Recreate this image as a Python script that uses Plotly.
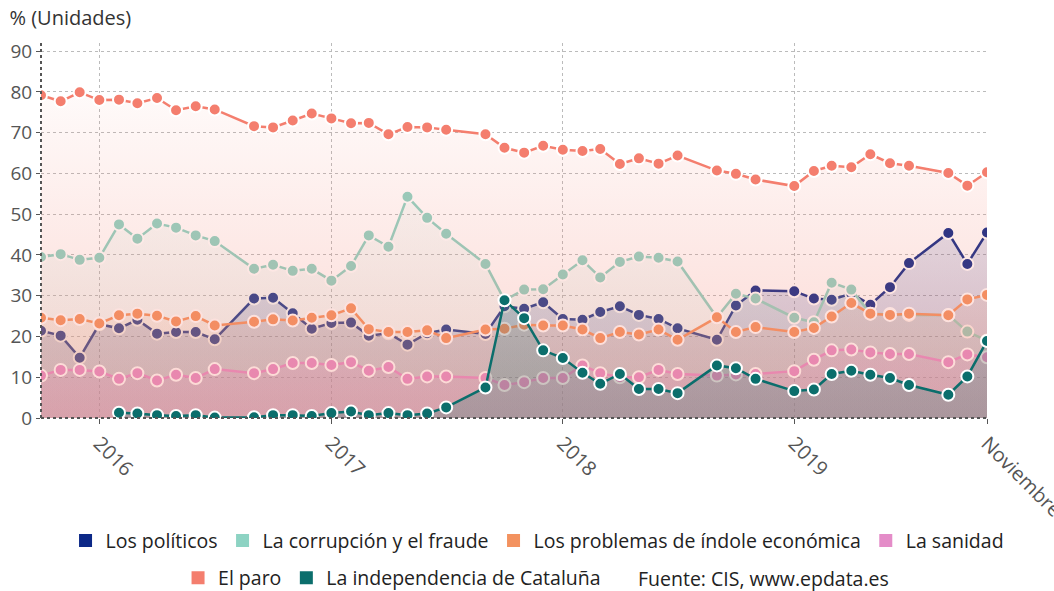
import plotly.graph_objects as go

# CIS barometer months (no survey in August, nor in December 2018)
months = [
    "2015-10-01", "2015-11-01", "2015-12-01",
    "2016-01-01", "2016-02-01", "2016-03-01", "2016-04-01", "2016-05-01", "2016-06-01", "2016-07-01",
    "2016-09-01", "2016-10-01", "2016-11-01", "2016-12-01",
    "2017-01-01", "2017-02-01", "2017-03-01", "2017-04-01", "2017-05-01", "2017-06-01", "2017-07-01",
    "2017-09-01", "2017-10-01", "2017-11-01", "2017-12-01",
    "2018-01-01", "2018-02-01", "2018-03-01", "2018-04-01", "2018-05-01", "2018-06-01", "2018-07-01",
    "2018-09-01", "2018-10-01", "2018-11-01",
    "2019-01-01", "2019-02-01", "2019-03-01", "2019-04-01", "2019-05-01", "2019-06-01", "2019-07-01",
    "2019-09-01", "2019-10-01", "2019-11-01",
]

politicos = [21.4, 20.2, 14.8, 23.0, 22.0, 24.1, 20.7, 21.1, 21.1, 19.3,
             29.3, 29.5, 25.7, 21.9, 23.3, 23.4, 20.2, 20.8, 18.0, 20.8, 21.7,
             20.6, 27.4, 26.8, 28.4, 24.3, 24.1, 26.0, 27.4, 25.3, 24.3, 22.0,
             19.2, 27.6, 31.3, 31.1, 29.3, 29.0, 30.5, 27.8, 32.1, 38.0,
             45.4, 37.8, 45.5]

corrupcion = [39.5, 40.2, 38.8, 39.3, 47.5, 44.0, 47.7, 46.7, 44.8, 43.4,
              36.6, 37.6, 36.1, 36.6, 33.7, 37.3, 44.8, 42.0, 54.3, 49.1, 45.2,
              37.8, 28.9, 31.5, 31.6, 35.2, 38.7, 34.5, 38.3, 39.6, 39.3, 38.4,
              24.7, 30.5, 29.3, 24.6, 23.5, 33.2, 31.5, 25.6, 25.5, 25.3,
              25.3, 21.2, 19.0]

economicos = [24.6, 24.0, 24.3, 23.2, 25.2, 25.6, 25.1, 23.7, 25.0, 22.7,
              23.6, 24.2, 23.9, 24.6, 25.2, 26.9, 21.8, 21.1, 21.1, 21.5, 19.6,
              21.7, 21.9, 22.9, 22.7, 22.7, 21.7, 19.6, 21.1, 20.5, 21.7, 19.2,
              24.7, 21.1, 22.3, 21.1, 22.1, 24.9, 28.2, 25.6, 25.3, 25.6,
              25.2, 29.1, 30.2]

sanidad = [10.4, 11.8, 11.8, 11.4, 9.6, 11.0, 9.2, 10.6, 9.8, 12.0,
           11.0, 12.0, 13.5, 13.5, 13.0, 13.7, 11.6, 12.5, 9.6, 10.2, 10.2,
           9.8, 8.1, 8.8, 9.8, 9.8, 12.9, 11.0, 10.0, 10.0, 11.8, 10.8,
           10.4, 10.7, 10.8, 11.5, 14.3, 16.6, 16.8, 16.1, 15.7, 15.7,
           13.7, 15.6, 14.9]

paro = [79.2, 77.7, 79.9, 78.0, 78.1, 77.2, 78.5, 75.5, 76.5, 75.7,
        71.6, 71.3, 73.0, 74.7, 73.5, 72.3, 72.4, 69.6, 71.4, 71.3, 70.7,
        69.6, 66.3, 65.1, 66.8, 65.8, 65.5, 66.0, 62.3, 63.7, 62.4, 64.4,
        60.7, 59.9, 58.5, 56.9, 60.6, 61.9, 61.5, 64.7, 62.5, 61.9,
        60.1, 57.0, 60.3]

independencia = [None, None, None, None, 1.3, 1.1, 0.7, 0.5, 0.7, 0.1,
                 0.2, 0.7, 0.7, 0.5, 1.2, 1.6, 0.7, 1.2, 0.7, 1.1, 2.6,
                 7.5, 28.9, 24.5, 16.6, 14.7, 11.1, 8.4, 10.8, 7.1, 7.1, 6.1,
                 12.9, 12.2, 9.6, 6.6, 7.0, 10.8, 11.6, 10.6, 9.8, 8.1,
                 5.7, 10.2, 18.9]

tick_dates = ["2016-01-01", "2017-01-01", "2018-01-01", "2019-01-01", "2019-11-01"]
tick_text = ["2016", "2017", "2018", "2019", "Noviembre"]

series = [
    ("Los políticos", politicos, (12, 40, 135), 0.26),
    ("La corrupción y el fraude", corrupcion, (141, 211, 195), 0.16),
    ("Los problemas de índole económica", economicos, (243, 146, 95), 0.16),
    ("La sanidad", sanidad, (228, 140, 200), 0.26),
    ("El paro", paro, (244, 126, 110), 0.32),
    ("La independencia de Cataluña", independencia, (11, 110, 108), 0.22),
]


def rgba(c, a):
    return "rgba(%d,%d,%d,%.3f)" % (c[0], c[1], c[2], a)


fig = go.Figure()

for name, vals, col, alpha in series:
    fig.add_trace(go.Scatter(
        x=months, y=vals, mode="lines+markers", name=name,
        fill="tozeroy",
        fillgradient=dict(type="vertical", start=0, stop=90,
                          colorscale=[[0, rgba(col, alpha)], [1, rgba(col, 0.0)]]),
        line=dict(color=rgba(col, 1), width=2.5),
        marker=dict(size=12, color=rgba(col, 1), line=dict(color="white", width=2)),
        connectgaps=False, showlegend=False, hoverinfo="skip",
    ))

# legend swatches (squares, as in the original)
for i, (name, vals, col, alpha) in enumerate(series):
    fig.add_trace(go.Scatter(
        x=[None], y=[None], mode="markers", name=name,
        marker=dict(symbol="square", size=13, color=rgba(col, 1)),
        legend="legend" if i < 4 else "legend2",
    ))

fig.add_annotation(
    text="Fuente: CIS, www.epdata.es", xref="paper", yref="paper",
    x=0.629, y=-0.427, xanchor="left", yanchor="middle", showarrow=False,
    font=dict(size=19.5, color="#222222"),
)

# dotted axis lines
fig.add_shape(type="line", xref="paper", yref="paper", x0=0, x1=0, y0=0, y1=1,
              line=dict(color="#555555", width=2, dash="dot"))
fig.add_shape(type="line", xref="paper", yref="paper", x0=0, x1=1, y0=0, y1=0,
              line=dict(color="#555555", width=2, dash="dot"))

fig.update_layout(
    width=1054, height=591,
    paper_bgcolor="white", plot_bgcolor="white",
    font=dict(family="Open Sans, Noto Sans, sans-serif", color="#555555"),
    margin=dict(l=41, r=67, t=43, b=173),
    title=dict(text="% (Unidades)", xref="container", yref="container",
               x=0.009, xanchor="left", y=0.97, yanchor="middle",
               font=dict(size=20, color="#333333")),
    xaxis=dict(
        type="date", range=["2015-10-01", "2019-11-01"],
        tickvals=tick_dates, ticktext=tick_text, tickangle=45,
        tickfont=dict(size=20, color="#555555"), ticklabeloverflow="allow",
        showgrid=True, gridcolor="#bbbbbb", griddash="dot", gridwidth=1,
        ticks="outside", ticklen=5, tickcolor="#555555",
        showline=False, zeroline=False, automargin=False,
    ),
    yaxis=dict(
        range=[0, 92], tickvals=[0, 10, 20, 30, 40, 50, 60, 70, 80, 90],
        tickfont=dict(size=19, color="#555555"),
        showgrid=True, gridcolor="#bbbbbb", griddash="dot", gridwidth=1,
        ticks="outside", ticklen=4, tickcolor="#555555",
        showline=False, zeroline=False, automargin=False,
    ),
    legend=dict(orientation="h", xref="container", yref="container",
                x=0.51, xanchor="center", y=0.085, yanchor="middle",
                font=dict(size=19.5, color="#222222"), itemclick=False,
                bgcolor="rgba(0,0,0,0)"),
    legend2=dict(orientation="h", xref="container", yref="container",
                 x=0.575, xanchor="right", y=0.022, yanchor="middle",
                 font=dict(size=19.5, color="#222222"), itemclick=False,
                 bgcolor="rgba(0,0,0,0)"),
    hovermode=False,
)

fig.write_html("out.html", config={"displayModeBar": False},
               post_script="document.body.style.margin='0';")
